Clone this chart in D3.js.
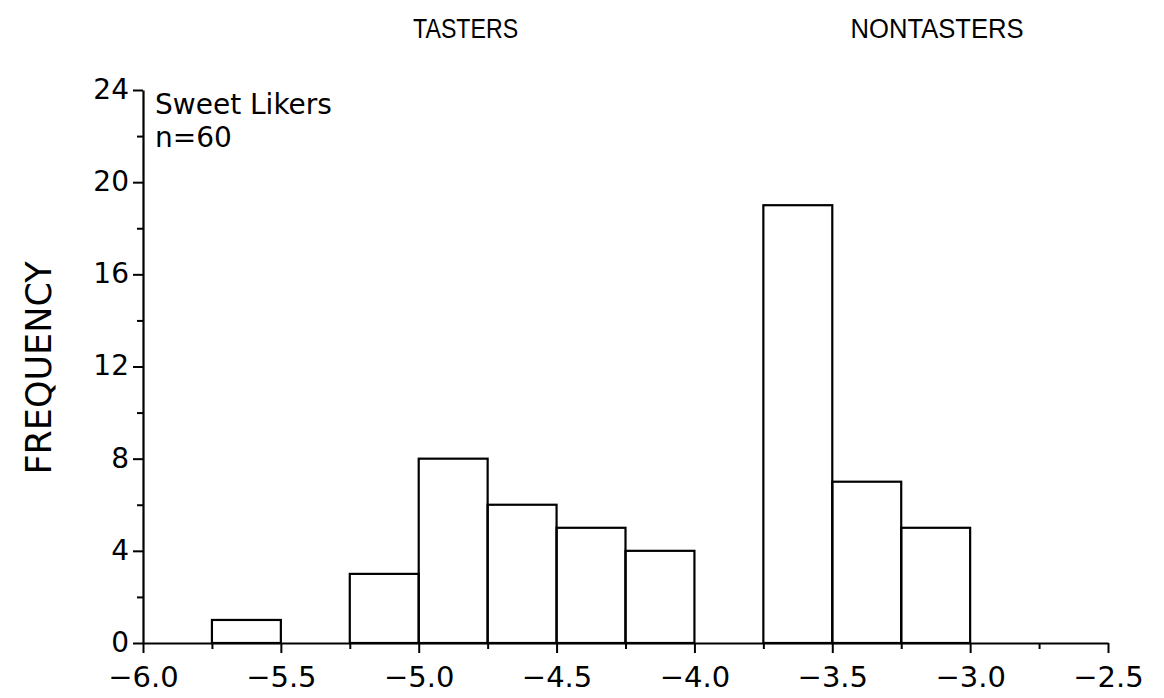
<!DOCTYPE html>
<html><head><meta charset="utf-8">
<script src="https://cdn.jsdelivr.net/npm/d3@7"></script>
<style>body{margin:0;background:#fff}text{font-family:"DejaVu Sans",sans-serif;fill:#000}</style>
</head><body>
<svg id="c" width="1164" height="698"></svg>
<script>
const binStarts = [-5.75, -5.25, -5.0, -4.75, -4.5, -4.25, -3.75, -3.5, -3.25];
const counts    = [1, 3, 8, 6, 5, 4, 19, 7, 5];
const binWidth = 0.25;
const xTicks = [-6.0, -5.5, -5.0, -4.5, -4.0, -3.5, -3.0, -2.5];
const yTicks = [0, 4, 8, 12, 16, 20, 24];
const groupLabels = ["TASTERS", "NONTASTERS"];
const groupCenters = [-4.83, -3.12];
const groupLabelWidths = [105, 173];

const svg = d3.select("#c");
const x = d3.scaleLinear().domain([-6.0, -2.5]).range([143, 1108]);
const y = d3.scaleLinear().domain([0, 24]).range([643, 90]);
const isMajorX = d => xTicks.some(t => Math.abs(t - d) < 1e-9);

// bars
svg.append("g").selectAll("rect").data(binStarts).join("rect")
  .attr("x", (d) => x(d)).attr("width", (d) => x(d + binWidth) - x(d))
  .attr("y", (d, i) => y(counts[i])).attr("height", (d, i) => y(0) - y(counts[i]))
  .attr("fill", "none").attr("stroke", "#000").attr("stroke-width", 2.2);

// x axis
const xMinor = d3.range(-6.0, -2.5 + 1e-9, 0.25);
const xa = svg.append("g").attr("transform", `translate(0,${y(0)})`)
  .call(d3.axisBottom(x).tickValues(xMinor).tickSize(8).tickSizeOuter(0)
    .tickFormat(d => isMajorX(d) ? d3.format(".1f")(d).replace("-", "\u2212") : ""));
xa.select(".domain").attr("stroke-width", 2.2);
xa.selectAll(".tick line").attr("stroke-width", 2).attr("y2", d => isMajorX(d) ? 10 : 6);
xa.selectAll(".tick text").attr("font-size", 29).attr("y", 34).attr("dy", "0.36em")
  .style("font-family", '"DejaVu Sans",sans-serif');

// y axis
const yMinor = d3.range(0, 24.001, 2);
const ya = svg.append("g").attr("transform", `translate(${x(-6.0)},0)`)
  .call(d3.axisLeft(y).tickValues(yMinor).tickSizeOuter(0)
    .tickFormat(d => yTicks.includes(d) ? d : ""));
ya.select(".domain").attr("stroke-width", 2.2);
ya.selectAll(".tick line").attr("stroke-width", 2).attr("x2", d => yTicks.includes(d) ? -10 : -6);
ya.selectAll(".tick text").attr("font-size", 28).attr("x", -14).attr("dy", "0.3em")
  .style("font-family", '"DejaVu Sans",sans-serif');

// axis title
svg.append("text").attr("transform", "translate(51,368) rotate(-90)")
  .attr("text-anchor", "middle").attr("font-size", 35).text("FREQUENCY");

// group labels
svg.selectAll(".grp").data(groupLabels).join("text").attr("class", "grp")
  .attr("x", (d, i) => x(groupCenters[i]) - groupLabelWidths[i] / 2).attr("y", 38)
  .attr("font-size", 27)
  .attr("textLength", (d, i) => groupLabelWidths[i]).attr("lengthAdjust", "spacingAndGlyphs")
  .style("font-family", '"Liberation Sans",Arial,sans-serif')
  .text(d => d);

// annotation
svg.append("text").attr("x", 155).attr("y", 114).attr("font-size", 28).text("Sweet Likers");
svg.append("text").attr("x", 155).attr("y", 147).attr("font-size", 28).text("n=60");
</script>
</body></html>
